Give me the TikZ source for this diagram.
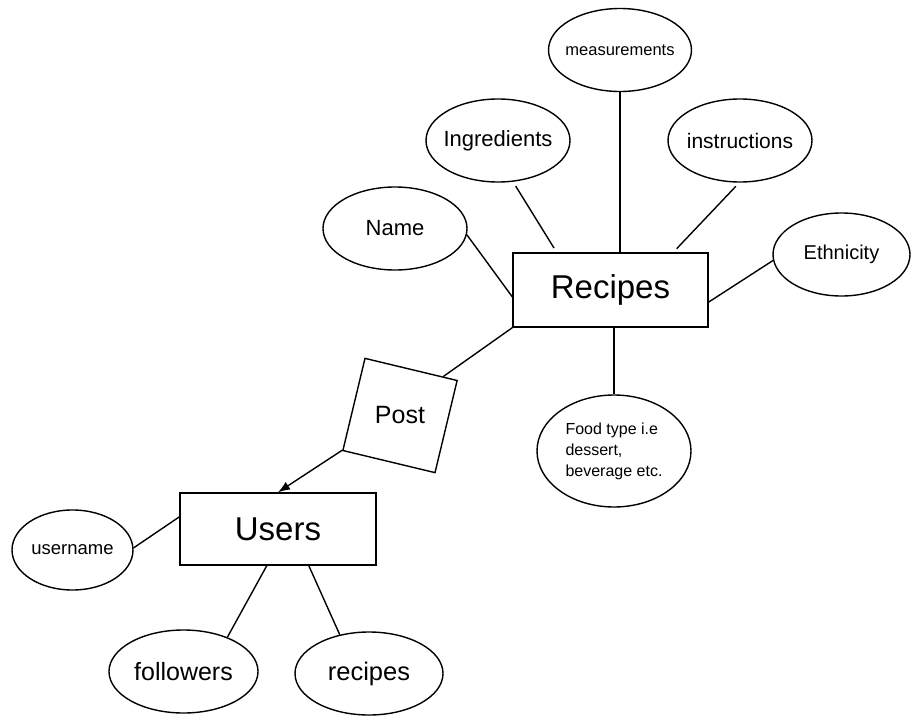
\documentclass[tikz,border=0pt]{standalone}
\usepackage{fontspec}
\setmainfont{Liberation Sans}
\usetikzlibrary{arrows.meta,shapes.geometric}

\begin{document}
\begin{tikzpicture}[x=1pt,y=-1pt,line width=1.4pt,
    attr/.style={draw,ellipse,inner xsep=-10pt,inner ysep=0pt,minimum width=144pt,minimum height=83pt,font=\fontsize{21}{24}\selectfont},
    entity/.style={draw,rectangle,minimum width=195pt,minimum height=74pt,font=\fontsize{33}{38}\selectfont},
    relation/.style={draw,regular polygon,regular polygon sides=4,shape border rotate=-13.5,minimum size=134pt,inner sep=0pt,font=\fontsize{25}{30}\selectfont}]
    \useasboundingbox (0,0) rectangle (911,717);
    \node[attr,minimum width=143pt,font=\fontsize{16.5}{19}\selectfont] (meas) at (620,50) {measurements};
    \node[attr,font=\fontsize{22}{26}\selectfont] (ingr) at (498,140.5) {Ingredients};
    \node[attr] (instr) at (740,140.5) {instructions};
    \node[attr,font=\fontsize{22}{26}\selectfont] (name) at (395,228.5) {Name};
    \node[attr,minimum width=137pt,font=\fontsize{20}{24}\selectfont] (eth) at (841.5,254.5) {Ethnicity};
    \node[entity] (recipes) at (610.5,290) {Recipes};
    \node[attr,minimum width=154pt,minimum height=112pt,align=left,font=\fontsize{16}{21}\selectfont] (food) at (614,451) {Food type i.e\\dessert,\\beverage etc.};
    \node[relation] (post) at (400,415.5) {Post};
    \node[entity,minimum width=196pt,minimum height=72pt] (users) at (278,529) {Users};
    \node[attr,minimum width=121pt,minimum height=80pt,font=\fontsize{18.5}{22}\selectfont] (uname) at (72.5,550) {username};
    \node[attr,minimum width=149pt,font=\fontsize{25}{30}\selectfont] (foll) at (183.5,671.5) {followers};
    \node[attr,minimum width=148pt,font=\fontsize{25.5}{30}\selectfont] (urec) at (369,673.5) {recipes};
    \path
    (name.-5) edge (recipes.184)
    (ingr.-70) edge[shorten <=5pt,shorten >=5pt] (recipes.145)
    (meas) edge (meas |- recipes.north)
    (instr.-91) edge[shorten <=5pt,shorten >=5pt] (recipes.31)
    (eth.185) edge (recipes.-7)
    (food) edge (food |- recipes.south)
    (recipes.south west) edge (post.42)
    (post.211) edge[-{Latex[length=12pt,width=9pt]}] (users.north)
    (uname.2) edge (users.173)
    (users.-107) edge (foll.38)
    (users.-50) edge (urec.127)
    ;
\end{tikzpicture}
\end{document}
